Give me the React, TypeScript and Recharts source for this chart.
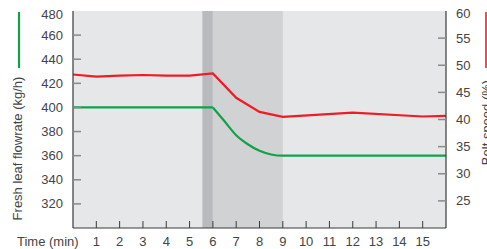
import React from 'react';
import { ComposedChart, Line, XAxis, YAxis, ReferenceArea } from 'recharts';

// belt speed (%) read at each minute, right axis
const beltTime = [0, 1, 2, 3, 4, 5, 6, 7, 8, 9, 12, 15, 16];
const beltSpeed = [48.3, 47.9, 48.1, 48.2, 48.1, 48.1, 48.5, 44.0, 41.4, 40.5, 41.25, 40.55, 40.65];

// fresh leaf flowrate (kg/h), left axis
const flowTime = [0, 6, 6.5, 7, 7.5, 8, 8.5, 9, 16];
const flowRate = [400, 400, 388.5, 377, 369.5, 364, 361, 360, 360];

const timeTicks = [1, 2, 3, 4, 5, 6, 7, 8, 9, 10, 11, 12, 13, 14, 15];
const flowTicks = [320, 340, 360, 380, 400, 420, 440, 460, 480];
const beltTicks = [25, 30, 35, 40, 45, 50, 55, 60];

// shaded phases (minutes)
const stepBand = [5.55, 6];
const transitionBand = [6, 9];

const FONT = '"Liberation Sans", Arial, Helvetica, sans-serif';
const TEXT = '#444';
const GREEN = '#12a14a';
const RED = '#ee1c25';
const AXIS = '#3a3a3a';
const TICK = '#8a8a8a';

const beltData = beltTime.map((t, i) => ({ t, belt: beltSpeed[i] }));
const flowFlat = flowTime.slice(0, 2).map((t, i) => ({ t, flow: flowRate[i] }));
const flowCurve = flowTime.slice(1).map((t, i) => ({ t, flow: flowRate[i + 1] }));

const LeftTick = (props: any) => {
    const { x, y, payload } = props;
    const top = payload.value === 480;
    return (
        <g>
            {!top && <line x1={x} x2={x + 8} y1={y} y2={y} stroke={TICK} strokeWidth={1.5} />}
            <text x={x - 10} y={y + (top ? 3 : 0)} dy="0.35em" textAnchor="end" fontSize={13} fontFamily={FONT} fill={TEXT}>
                {payload.value}
            </text>
        </g>
    );
};

const RightTick = (props: any) => {
    const { x, y, payload } = props;
    const top = payload.value === 60;
    return (
        <g>
            {!top && <line x1={x - 8} x2={x} y1={y} y2={y} stroke={TICK} strokeWidth={1.5} />}
            <text x={x + 10} y={y + (top ? 2 : 0)} dy="0.35em" textAnchor="start" fontSize={13} fontFamily={FONT} fill={TEXT}>
                {payload.value}
            </text>
        </g>
    );
};

const BottomTick = (props: any) => {
    const { x, y, payload } = props;
    return (
        <g>
            <line x1={x} x2={x} y1={y - 7} y2={y} stroke={AXIS} strokeWidth={1} />
            <text x={x} y={y + 18} textAnchor="middle" fontSize={13} fontFamily={FONT} fill={TEXT}>
                {payload.value}
            </text>
        </g>
    );
};

export default function App() {
    return (
        <div style={{ position: 'absolute', left: 0, top: 0, width: 487, height: 249, fontFamily: FONT, background: '#fff' }}>
            <ComposedChart width={487} height={249} margin={{ top: 11, right: 0, bottom: 0, left: 0 }}>
                <XAxis
                    dataKey="t"
                    type="number"
                    domain={[0, 16]}
                    ticks={timeTicks}
                    allowDuplicatedCategory={false}
                    height={21}
                    tickSize={0}
                    tickMargin={0}
                    tickLine={false}
                    axisLine={{ stroke: AXIS, strokeWidth: 1.2 }}
                    tick={BottomTick}
                    interval={0}
                />
                <YAxis
                    yAxisId="flow"
                    orientation="left"
                    domain={[300, 480]}
                    ticks={flowTicks}
                    width={73}
                    tickSize={0}
                    tickMargin={0}
                    tickLine={false}
                    axisLine={{ stroke: AXIS, strokeWidth: 1.2 }}
                    tick={LeftTick}
                    interval={0}
                />
                <YAxis
                    yAxisId="belt"
                    orientation="right"
                    domain={[20, 60]}
                    ticks={beltTicks}
                    width={41}
                    tickSize={0}
                    tickMargin={0}
                    tickLine={false}
                    axisLine={{ stroke: AXIS, strokeWidth: 1.2 }}
                    tick={RightTick}
                    interval={0}
                />
                <ReferenceArea yAxisId="flow" x1={0} x2={16} y1={300} y2={480} fill="#e6e7e8" fillOpacity={1} stroke="none" />
                <ReferenceArea yAxisId="flow" x1={stepBand[0]} x2={stepBand[1]} y1={300} y2={480} fill="#b9babd" fillOpacity={1} stroke="none" />
                <ReferenceArea yAxisId="flow" x1={transitionBand[0]} x2={transitionBand[1]} y1={300} y2={480} fill="#d1d2d4" fillOpacity={1} stroke="none" />
                <Line
                    yAxisId="flow"
                    data={flowFlat}
                    dataKey="flow"
                    type="linear"
                    stroke={GREEN}
                    strokeWidth={2.2}
                    dot={false}
                    isAnimationActive={false}
                />
                <Line
                    yAxisId="flow"
                    data={flowCurve}
                    dataKey="flow"
                    type="monotone"
                    stroke={GREEN}
                    strokeWidth={2.2}
                    dot={false}
                    isAnimationActive={false}
                />
                <Line
                    yAxisId="belt"
                    data={beltData}
                    dataKey="belt"
                    type="linear"
                    stroke={RED}
                    strokeWidth={2.2}
                    dot={false}
                    isAnimationActive={false}
                />
            </ComposedChart>
            <svg
                width={487}
                height={249}
                style={{ position: 'absolute', left: 0, top: 0, pointerEvents: 'none', overflow: 'hidden' }}
            >
                <line x1={19} x2={19} y1={12} y2={68} stroke={GREEN} strokeWidth={2.2} />
                <line x1={486} x2={486} y1={12} y2={68} stroke={RED} strokeWidth={1.6} />
                <text
                    transform="translate(22,148.5) rotate(-90)"
                    textAnchor="middle"
                    fontSize={13}
                    fontFamily={FONT}
                    fill={TEXT}
                >
                    Fresh leaf flowrate (kg/h)
                </text>
                <text
                    transform="translate(491,122.5) rotate(-90)"
                    textAnchor="middle"
                    fontSize={13}
                    fontFamily={FONT}
                    fill={TEXT}
                >
                    Belt speed (%)
                </text>
                <text x={17} y={246} fontSize={13} fontFamily={FONT} fill={TEXT}>
                    Time (min)
                </text>
            </svg>
        </div>
    );
}
